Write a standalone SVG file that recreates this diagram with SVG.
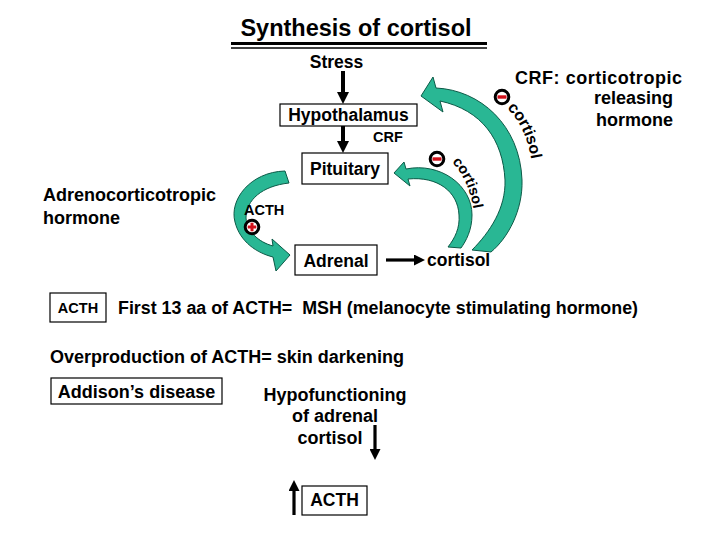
<svg xmlns="http://www.w3.org/2000/svg" width="720" height="540" viewBox="0 0 720 540">
<style>
text{font-family:"Liberation Sans",Arial,sans-serif;font-weight:bold;fill:#000}
.t{font-size:17.5px}
.m{font-size:18px}
.s{font-size:14.5px}
.box{fill:#fff;stroke:#000;stroke-width:1.2}
.ar{stroke:#000;stroke-width:4;fill:none}
.ar3{stroke:#000;stroke-width:3.2;fill:none}
.crv{fill:#29b794;stroke:#0c5a47;stroke-width:1}
</style>
<defs>
<marker id="ah" viewBox="0 0 12 12" refX="1" refY="6" markerWidth="12" markerHeight="12" markerUnits="userSpaceOnUse" orient="auto"><path d="M0,0 L12,6 L0,12 Z" fill="#000"/></marker>
<marker id="ah2" viewBox="0 0 11 11" refX="1" refY="5.5" markerWidth="11" markerHeight="11" markerUnits="userSpaceOnUse" orient="auto"><path d="M0,0 L11,5.5 L0,11 Z" fill="#000"/></marker>
<g id="minus"><circle r="6.8" fill="#fff" stroke="#000" stroke-width="3"/><rect x="-4.5" y="-1.7" width="9" height="3.4" fill="#d0101a"/></g>
<g id="plus"><circle r="6.8" fill="#fff" stroke="#000" stroke-width="3"/><rect x="-4.3" y="-1.5" width="8.6" height="3" fill="#d0101a"/><rect x="-1.5" y="-4.3" width="3" height="8.6" fill="#d0101a"/></g>
<path id="p1" d="M507 108 Q527 128 532 164"/>
<path id="p2" d="M452 162 Q469 180 474 212"/>
</defs>

<g id="title">
<text x="356" y="36" font-size="23.5" text-anchor="middle">Synthesis of cortisol</text>
<line x1="231" y1="43.5" x2="487" y2="43.5" stroke="#000" stroke-width="3"/>
<line x1="231" y1="48" x2="487" y2="48" stroke="#000" stroke-width="1.3"/>
</g>

<g id="connectors">
<line class="ar" x1="343" y1="71" x2="343" y2="93" marker-end="url(#ah)"/>
<line class="ar" x1="343" y1="126" x2="343" y2="142" marker-end="url(#ah)"/>
<line class="ar3" x1="386" y1="260" x2="415" y2="260" marker-end="url(#ah2)"/>
<line class="ar3" x1="375" y1="425" x2="375" y2="450" marker-end="url(#ah2)"/>
<line class="ar3" x1="294" y1="515" x2="294" y2="490" marker-end="url(#ah2)"/>
<path class="crv" d="M421 96 L433 77 L436 88 C480 90 520 125 522 180 C523 210 508 238 491 252 L472 250 C490 232 506 208 505 180 C503 140 482 110 440 101 L443 112 Z"/>
<path class="crv" d="M394 173 L404 162 L406 169 C440 162 472 185 472 215 C472 230 466 241 461 248 L448 247 C455 238 460 228 459 215 C458 192 438 176 408 179 L410 186 Z"/>
<path class="crv" d="M285 171 C250 172 229 200 235 222 C240 242 257 253 273 257 L276 271 L290 255 L272 239 L273 246 C258 242 247 231 246 218 C246 200 262 186 289 183 Z"/>
<use href="#minus" x="502" y="97"/>
<use href="#minus" x="437" y="159"/>
<use href="#plus" x="252" y="227"/>
<text font-size="16"><textPath href="#p1">cortisol</textPath></text>
<text font-size="14.5"><textPath href="#p2">cortisol</textPath></text>
<text class="s" x="244" y="215">ACTH</text>
<text class="s" x="373" y="142">CRF</text>
</g>

<g id="stress"><text class="t" x="336.5" y="68" text-anchor="middle">Stress</text></g>
<g id="hypothalamus"><rect class="box" x="280" y="104" width="137" height="22"/><text class="t" x="348.5" y="121" text-anchor="middle">Hypothalamus</text></g>
<g id="pituitary"><rect class="box" x="302" y="153" width="86" height="31"/><text class="t" x="345" y="175" text-anchor="middle">Pituitary</text></g>
<g id="adrenal"><rect class="box" x="295" y="245" width="82" height="30"/><text class="t" x="336" y="267" text-anchor="middle">Adrenal</text></g>
<g id="cortisol"><text class="t" x="427" y="266">cortisol</text></g>

<g id="crf-note">
<text class="m" x="515" y="84" textLength="167" lengthAdjust="spacing">CRF: corticotropic</text>
<text class="m" x="673" y="104" text-anchor="end">releasing</text>
<text class="m" x="673" y="126" text-anchor="end">hormone</text>
</g>
<g id="acth-note">
<text class="m" x="43" y="201">Adrenocorticotropic</text>
<text class="m" x="43" y="224">hormone</text>
</g>

<g id="acth-box"><rect class="box" x="50" y="293" width="56" height="29"/><text class="s" x="78" y="313" text-anchor="middle">ACTH</text></g>
<g id="msh"><text class="m" x="118" y="314" textLength="520" lengthAdjust="spacingAndGlyphs">First 13 aa of ACTH=&#160; MSH (melanocyte stimulating hormone)</text></g>
<g id="overproduction"><text class="m" x="50" y="363">Overproduction of ACTH= skin darkening</text></g>
<g id="addison"><rect class="box" x="51" y="378" width="171" height="26"/><text class="m" x="136.5" y="398" text-anchor="middle">Addison’s disease</text></g>
<g id="hypofunction">
<text class="m" x="335" y="401" text-anchor="middle">Hypofunctioning</text>
<text class="m" x="335" y="422" text-anchor="middle">of adrenal</text>
<text class="m" x="330" y="444" text-anchor="middle">cortisol</text>
</g>
<g id="acth-bottom"><rect class="box" x="302" y="486" width="65" height="29"/><text class="t" x="334.5" y="506" text-anchor="middle">ACTH</text></g>
</svg>
